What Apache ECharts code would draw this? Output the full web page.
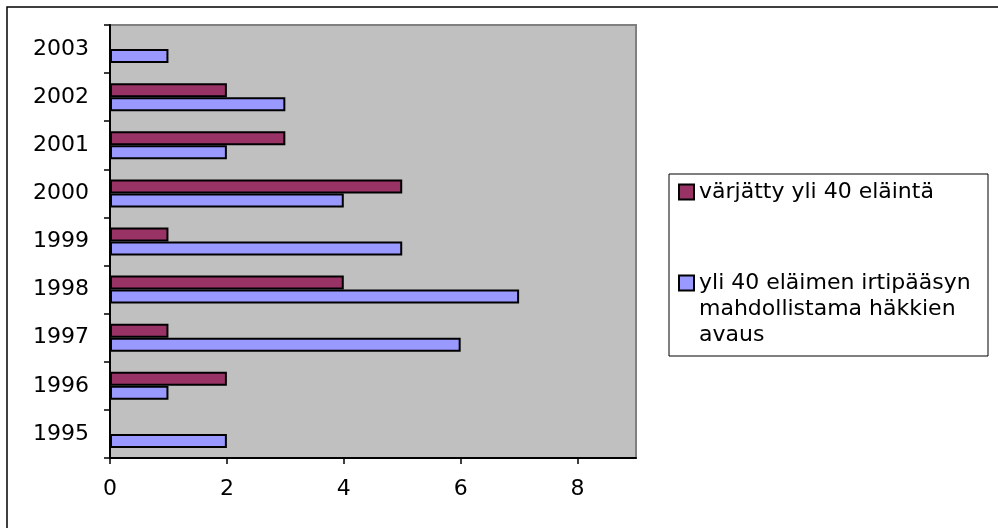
<!DOCTYPE html>
<html>
<head>
<meta charset="utf-8">
<script src="https://cdn.jsdelivr.net/npm/echarts@6/dist/echarts.min.js"></script>
<style>
  html, body { margin: 0; padding: 0; background: #fff; }
  #chart { width: 998px; height: 528px; }
</style>
</head>
<body>
<div id="chart"></div>
<script>
// vuodet (alhaalta ylös)
var years = ['1995', '1996', '1997', '1998', '1999', '2000', '2001', '2002', '2003'];
// värjätty yli 40 eläintä
var dyed = [null, 2, 1, 4, 1, 5, 3, 2, null];
// häkkien avaus
var opened = [2, 1, 6, 7, 5, 4, 2, 3, 1];
var xTicks = [0, 2, 4, 6, 8];

var nameDyed = 'värjätty yli 40 eläintä';
var nameOpened = 'yli 40 eläimen irtipääsyn\nmahdollistama häkkien\navaus';

var chart = echarts.init(document.getElementById('chart'));

var option = {
  animation: false,
  textStyle: {
    fontFamily: 'DejaVu Sans'
  },
  graphic: [
    {
      type: 'rect',
      shape: { x: 7, y: 7, width: 1000, height: 600 },
      style: { fill: null, stroke: '#000', lineWidth: 1.5 },
      silent: true
    },
    {
      // legendin kehys
      type: 'rect',
      shape: { x: 669, y: 174, width: 319, height: 182 },
      style: { fill: '#fff', stroke: '#000', lineWidth: 1 },
      silent: true,
      z: -1
    }
  ],
  grid: {
    left: 110,
    top: 25,
    right: 362,
    bottom: 70,
    show: true,
    backgroundColor: '#c0c0c0',
    borderColor: '#808080',
    borderWidth: 2
  },
  legend: {
    orient: 'vertical',
    left: 678,
    top: 179,
    padding: 0,
    itemGap: 13,
    itemWidth: 15,
    itemHeight: 15,
    icon: 'rect',
    data: [nameDyed, nameOpened],
    formatter: function (name) {
      // kuvake ensimmäisen rivin kohdalle
      return name === nameOpened ? '\n\n' + name : name;
    },
    textStyle: {
      fontFamily: 'DejaVu Sans',
      fontSize: 22,
      lineHeight: 26,
      color: '#000'
    }
  },
  xAxis: {
    type: 'value',
    min: 0,
    max: 9,
    interval: 2,
    splitLine: { show: false },
    axisLine: { show: true, onZero: false, lineStyle: { color: '#000', width: 2 } },
    axisTick: { show: true, length: 6, customValues: xTicks, lineStyle: { color: '#000', width: 1.5 } },
    axisLabel: {
      customValues: xTicks,
      margin: 20,
      fontSize: 22,
      color: '#000',
      fontFamily: 'DejaVu Sans'
    }
  },
  yAxis: {
    type: 'category',
    data: years,
    axisLine: { show: true, lineStyle: { color: '#000', width: 2 } },
    axisTick: { show: true, length: 6, lineStyle: { color: '#000', width: 1.5 } },
    axisLabel: {
      margin: 21,
      fontSize: 22,
      color: '#000',
      fontFamily: 'DejaVu Sans'
    }
  },
  series: [
    {
      name: nameDyed,
      type: 'bar',
      data: dyed,
      barWidth: 14,
      barGap: '0%',
      itemStyle: { color: '#993366', borderColor: '#000', borderWidth: 2 }
    },
    {
      name: nameOpened,
      type: 'bar',
      data: opened,
      barWidth: 14,
      barGap: '0%',
      itemStyle: { color: '#9999ff', borderColor: '#000', borderWidth: 2 }
    }
  ]
};

chart.setOption(option);
</script>
</body>
</html>
